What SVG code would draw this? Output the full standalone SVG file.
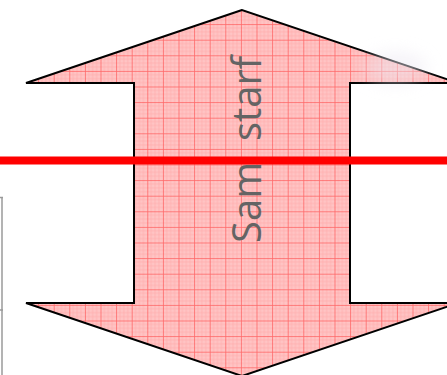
<svg xmlns="http://www.w3.org/2000/svg" width="447" height="375" viewBox="0 0 447 375">
  <style>
    .shape { fill: url(#grid); stroke: #000; stroke-width: 2; stroke-linejoin: miter; }
    .label { font-family: "Open Sans", "DejaVu Sans", sans-serif; font-size: 40px; fill: #646464; white-space: pre; }
    .frame { stroke: #9a9a9a; stroke-width: 1.5; fill: none; }
  </style>
  <defs>
    <pattern id="grid" patternUnits="userSpaceOnUse" x="6.9" y="8.5" width="15.6" height="15.6">
      <rect width="15.6" height="15.6" fill="#ffc4c4"/>
      <g stroke="#ff7a7a" stroke-width="0.5" opacity="0.45">
        <line x1="3.9" y1="0" x2="3.9" y2="15.6"/>
        <line x1="7.8" y1="0" x2="7.8" y2="15.6"/>
        <line x1="11.7" y1="0" x2="11.7" y2="15.6"/>
        <line x1="0" y1="3.9" x2="15.6" y2="3.9"/>
        <line x1="0" y1="7.8" x2="15.6" y2="7.8"/>
        <line x1="0" y1="11.7" x2="15.6" y2="11.7"/>
      </g>
      <g stroke="#ff4a4a" stroke-width="0.9" opacity="0.75">
        <line x1="0.4" y1="0" x2="0.4" y2="15.6"/>
        <line x1="0" y1="0.4" x2="15.6" y2="0.4"/>
      </g>
    </pattern>
    <filter id="blur" x="-50%" y="-50%" width="200%" height="200%">
      <feGaussianBlur stdDeviation="8"/>
    </filter>
  </defs>

  <g id="frame">
    <line class="frame" x1="2" y1="197" x2="2" y2="375"/>
    <line class="frame" x1="0" y1="197.5" x2="3" y2="197.5"/>
    <line class="frame" x1="0" y1="310" x2="3" y2="310"/>
  </g>

  <g id="double-arrow">
    <polygon class="shape" points="242,10 26,83 134,83 134,303 26,303 242,376 458,303 350,303 350,83 458,83"/>
  </g>

  <g id="smudge">
    <ellipse cx="395" cy="68" rx="32" ry="16" fill="#ece8f2" opacity="0.5" filter="url(#blur)"/>
  </g>

  <g id="connectors">
    <rect x="0" y="156.5" width="447" height="8" fill="#ff0000"/>
  </g>

  <g id="label">
    <text class="label" transform="translate(260.5,243) rotate(-90)" x="0" y="0">Sam  starf</text>
  </g>
</svg>
